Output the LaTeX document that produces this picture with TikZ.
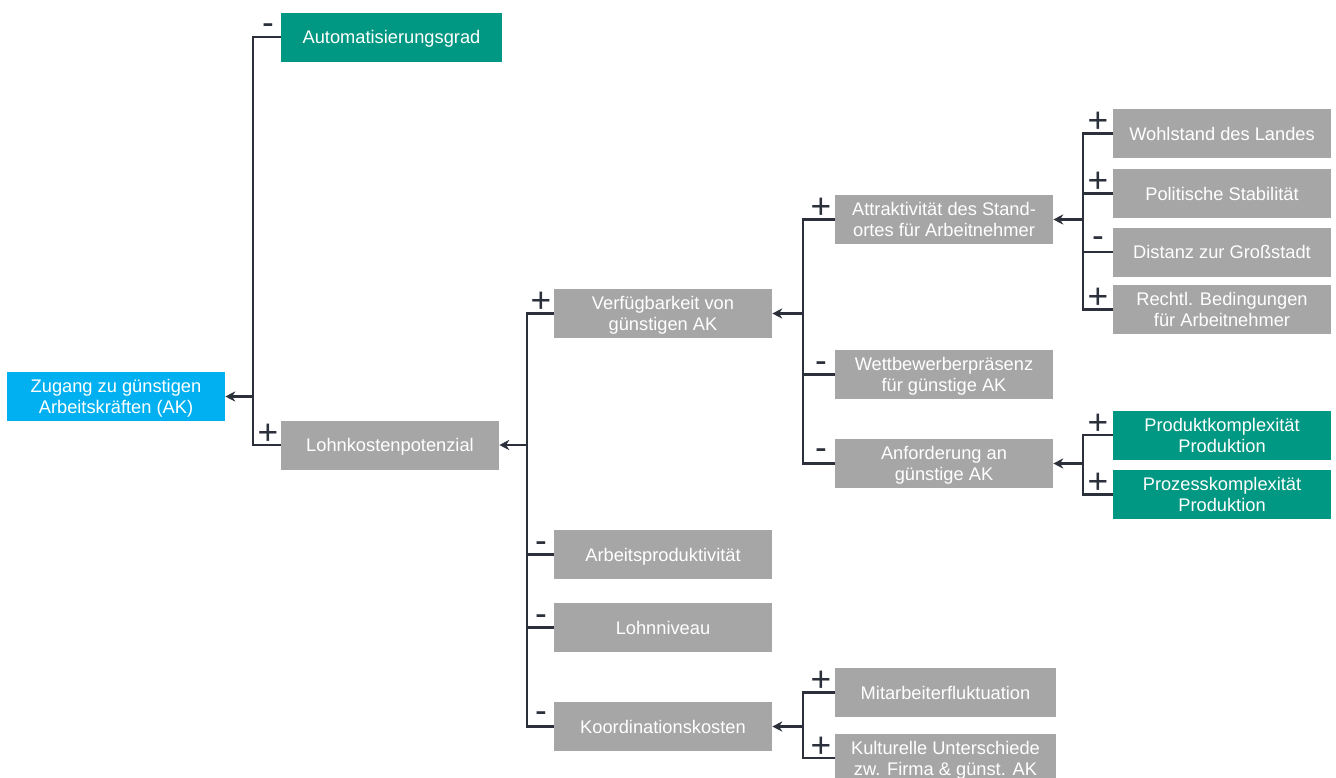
\documentclass[tikz,border=0pt]{standalone}
\usepackage{fontspec}
\setmainfont{Liberation Sans}
\usetikzlibrary{arrows.meta}

\definecolor{linec}{HTML}{2B303B}
\definecolor{boxgray}{HTML}{A6A6A6}
\definecolor{factteal}{HTML}{009882}
\definecolor{factblue}{HTML}{00B0F0}

\tikzset{
  box/.style={fill=boxgray, text=white, minimum width=163.5pt, minimum height=36.75pt,
    inner sep=0pt, align=center, font=\fontsize{13.7}{15.8}\selectfont,
    text height=9.8pt, text depth=0pt},
  twoline/.style={text height=25.6pt, text depth=0pt},
  widebox/.style={box, minimum width=165.75pt},
  tealbox/.style={fill=factteal},
  link/.style={draw=linec, line width=2.1pt},
  feed/.style={link, -{Stealth[length=7.5pt,width=7.5pt]}},
  sign/.style={anchor=base, text=linec, inner sep=0pt, font=\fontsize{26.5}{26.5}\selectfont},
}

\begin{document}
\begin{tikzpicture}[x=0.75pt,y=-0.75pt]
\useasboundingbox (0,0) rectangle (1336,778);

% trunk positions of the four levels
\coordinate (t1) at (253,0);
\coordinate (t2) at (527,0);
\coordinate (t3) at (803,0);
\coordinate (t4) at (1083,0);

% level 0
\node[box, twoline, fill=factblue] (zugang) at (116,396.5) {Zugang zu günstigen\\Arbeitskräften (AK)};

% level 1
\node[widebox, tealbox] (auto) at (391.5,37) {Automatisierungsgrad};
\node[box] (lohn) at (390,445) {Lohnkostenpotenzial};

% level 2
\node[box, twoline] (verf) at (663,313.5) {Verfügbarkeit von\\günstigen AK};
\node[box] (arbp)   at (663,554.5) {Arbeitsproduktivität};
\node[box] (niveau) at (663,627.5) {Lohnniveau};
\node[box] (koord)  at (663,726.5) {Koordinationskosten};

% level 3
\node[box, twoline] (attr) at (944,219.5) {Attraktivität des Stand-\\ortes für Arbeitnehmer};
\node[box, twoline] (wett) at (944,374.5) {Wettbewerberpräsenz\\für günstige AK};
\node[box, twoline] (anf)  at (944,463.5) {Anforderung an\\günstige AK};
\node[widebox] (mitarb) at (945.5,692.5) {Mitarbeiterfluktuation};
\node[widebox, twoline] (kult) at (945.5,758) {Kulturelle Unterschiede\\zw. Firma \& günst. AK};

% level 4
\node[box] (wohl)  at (1222,133.5) {Wohlstand des Landes};
\node[box] (polit) at (1222,193.5) {Politische Stabilität};
\node[box] (dist)  at (1222,252)   {Distanz zur Großstadt};
\node[box, twoline] (recht) at (1222,309.5) {Rechtl. Bedingungen\\für Arbeitnehmer};
\node[box, twoline, tealbox] (prod) at (1222,435)   {Produktkomplexität\\Produktion};
\node[box, twoline, tealbox] (proz) at (1222,494.5) {Prozesskomplexität\\Produktion};

% connectors: Zugang
\draw[link] (auto.west) -- (t1 |- auto.west) -- (t1 |- lohn.west) -- (lohn.west);
\draw[feed] (t1 |- zugang.east) -- (zugang.east);

% connectors: Lohnkostenpotenzial
\draw[link] (verf.west) -- (t2 |- verf.west) -- (t2 |- koord.west) -- (koord.west);
\draw[link] (t2 |- arbp.west) -- (arbp.west);
\draw[link] (t2 |- niveau.west) -- (niveau.west);
\draw[feed] (t2 |- lohn.east) -- (lohn.east);

% connectors: Verfuegbarkeit
\draw[link] (attr.west) -- (t3 |- attr.west) -- (t3 |- anf.west) -- (anf.west);
\draw[link] (t3 |- wett.west) -- (wett.west);
\draw[feed] (t3 |- verf.east) -- (verf.east);

% connectors: Koordinationskosten
\draw[link] (mitarb.west) -- (t3 |- mitarb.west) -- (t3 |- kult.west) -- (kult.west);
\draw[feed] (t3 |- koord.east) -- (koord.east);

% connectors: Attraktivitaet
\draw[link] (wohl.west) -- (t4 |- wohl.west) -- (t4 |- recht.west) -- (recht.west);
\draw[link] (t4 |- polit.west) -- (polit.west);
\draw[link] (t4 |- dist.west) -- (dist.west);
\draw[feed] (t4 |- attr.east) -- (attr.east);

% connectors: Anforderung
\draw[link] (prod.west) -- (t4 |- prod.west) -- (t4 |- proz.west) -- (proz.west);
\draw[feed] (t4 |- anf.east) -- (anf.east);

% polarity signs
\node[sign] (s-auto)   at (268,34)    {-};
\node[sign] (s-lohn)   at (268,444)   {+};
\node[sign] (s-verf)   at (541,312.5) {+};
\node[sign] (s-arbp)   at (541,552.5) {-};
\node[sign] (s-niveau) at (541,625.5) {-};
\node[sign] (s-koord)  at (541,722)   {-};
\node[sign] (s-attr)   at (821,218.5) {+};
\node[sign] (s-wett)   at (821,372.5) {-};
\node[sign] (s-anf)    at (821,459)   {-};
\node[sign] (s-mitarb) at (821,691.5) {+};
\node[sign] (s-kult)   at (821,757)   {+};
\node[sign] (s-wohl)   at (1098,132.5) {+};
\node[sign] (s-polit)  at (1098,192.5) {+};
\node[sign] (s-dist)   at (1098,247.5) {-};
\node[sign] (s-recht)  at (1098,308.5) {+};
\node[sign] (s-prod)   at (1098,434)   {+};
\node[sign] (s-proz)   at (1098,493.5) {+};
\end{tikzpicture}
\end{document}
